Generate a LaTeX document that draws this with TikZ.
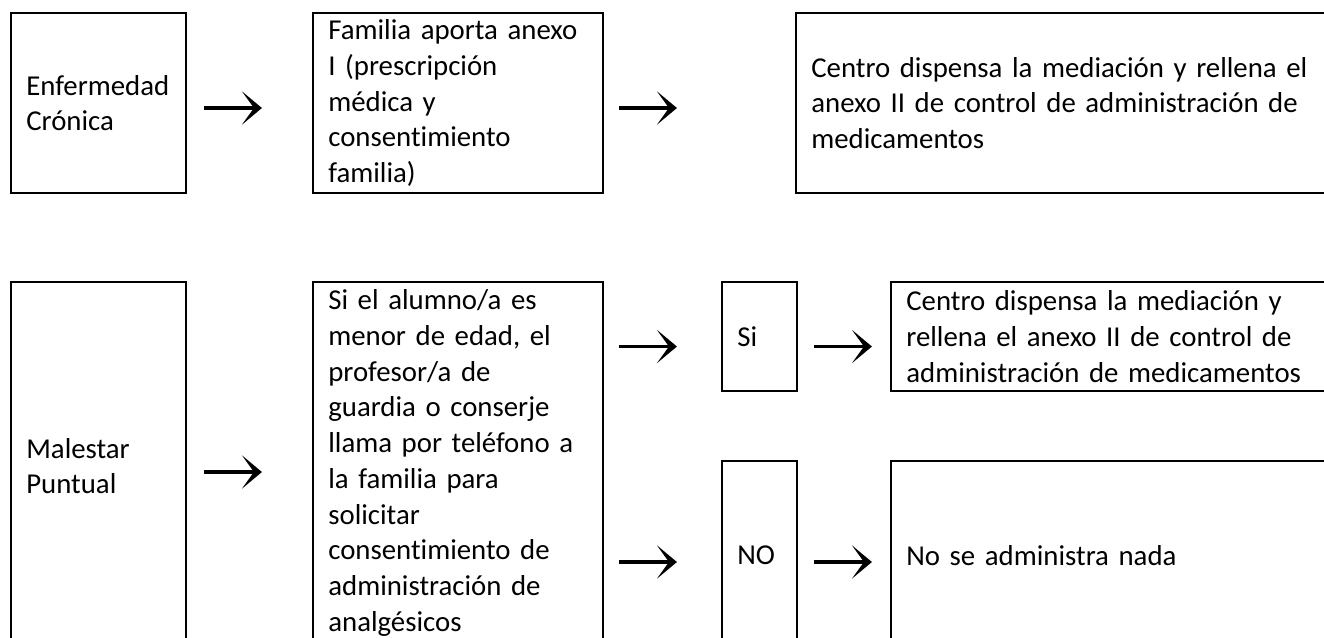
\documentclass[tikz,border=0pt]{standalone}
\usepackage{fontspec}
\setmainfont{Carlito}[Ligatures=CommonOff]
\usepackage{tikz}
\usetikzlibrary{arrows.meta,calc}

\begin{document}
\begin{tikzpicture}[
    x=0.75pt, y=-0.75pt,
    caja/.style={draw, line width=1.6pt, inner xsep=11.5pt, inner ysep=0pt, align=left,
        font=\fontsize{21.6}{26.8}\selectfont},
    flecha/.style={line width=2.3pt, -{Stealth[length=15pt, width=25pt, inset=9pt]}}
]
\useasboundingbox (0,0) rectangle (1324,637);

% Fila 1 - Enfermedad cronica
\node[caja, text width=108.25pt, minimum height=135pt] (enf) at (98.5,103) {Enfermedad\\Crónica};
\node[caja, text width=194.5pt, minimum height=135pt] (fam) at (458,103) {Familia aporta anexo\\I (prescripción\\médica y\\consentimiento\\familia)};
\node[caja, text width=385pt, minimum height=135pt] (cen) at (1068,103) {Centro dispensa la mediación y rellena el\\anexo II de control de administración de\\medicamentos};

% Fila 2 - Malestar puntual
\node[caja, text width=108.25pt, minimum height=276pt] (mal) at (98.5,466) {Malestar\\Puntual};
\node[caja, text width=194.5pt, minimum height=271.5pt] (sial) at (458,463) {Si el alumno/a es\\menor de edad, el\\profesor/a de\\guardia o conserje\\llama por teléfono a\\la familia para\\solicitar\\consentimiento de\\administración de\\analgésicos};
\node[caja, text width=33.25pt, minimum height=81.75pt] (si) at (759.5,336.5) {Si};
\node[caja, text width=313.75pt, minimum height=81.75pt] (cen2) at (1115.5,336.5) {Centro dispensa la mediación y\\rellena el anexo II de control de\\administración de medicamentos};
\node[caja, text width=33.25pt, minimum height=141.75pt] (no) at (759.5,555.5) {NO};
\node[caja, text width=313.75pt, minimum height=141.75pt] (nada) at (1115.5,555.5) {No se administra nada};

% Flechas
\draw[flecha] ([shift={(17,5)}]enf.east) -- ([shift={(-50,5)}]fam.west);
\draw[flecha] ([shift={(15,5)}]fam.east) -- ([shift={(-118,5)}]cen.west);
\draw[flecha] ([shift={(17,6)}]mal.east) -- ($(mal.east -| sial.west)+(-50,6)$);
\draw[flecha] ($(sial.east |- si.west)+(15,10)$) -- ([shift={(-44,10)}]si.west);
\draw[flecha] ([shift={(16,10)}]si.east) -- ([shift={(-18,10)}]cen2.west);
\draw[flecha] ($(sial.east |- no.west)+(15,6.5)$) -- ([shift={(-44,6.5)}]no.west);
\draw[flecha] ([shift={(16,6.5)}]no.east) -- ([shift={(-18,6.5)}]nada.west);

\end{tikzpicture}
\end{document}
